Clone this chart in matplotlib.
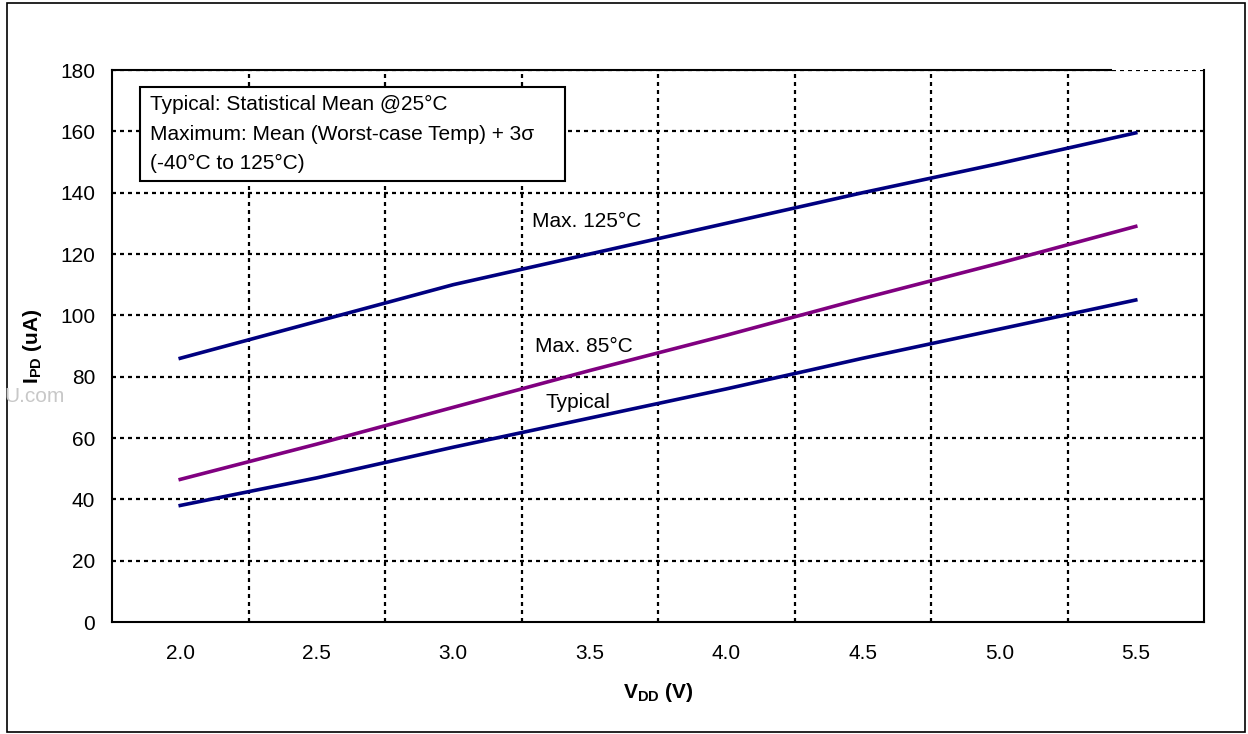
import matplotlib
matplotlib.use('Agg')
import matplotlib.pyplot as plt
from matplotlib.patches import Rectangle

plt.rcParams['font.family'] = ['Liberation Sans', 'DejaVu Sans']
plt.rcParams['mathtext.fontset'] = 'custom'
plt.rcParams['mathtext.rm'] = 'Liberation Sans'
plt.rcParams['mathtext.bf'] = 'Liberation Sans:bold'

# data
vdd = [2.0, 2.5, 3.0, 3.5, 4.0, 4.5, 5.0, 5.5]
typical = [38, 47, 57, 66.5, 76, 86, 95.5, 105]
max_85 = [46.5, 58, 70, 82, 93.5, 105.5, 117, 129]
max_125 = [86, 98, 110, 120, 130, 140, 149.5, 159.5]
xtick_labels = ['2.0', '2.5', '3.0', '3.5', '4.0', '4.5', '5.0', '5.5']
yticks = [0, 20, 40, 60, 80, 100, 120, 140, 160, 180]
vgrid = [2.25, 2.75, 3.25, 3.75, 4.25, 4.75, 5.25]

fig = plt.figure(figsize=(12.48, 7.34), dpi=100)
ax = fig.add_axes([112/1248, 112/734, 1092/1248, 552/734])

# outer frame around the whole picture
fig.patches.append(Rectangle((7/1248, 2/734), 1238/1248, 729/734, transform=fig.transFigure,
                             fill=False, edgecolor='black', linewidth=1.2))

# dotted grid
for y in yticks[1:]:
    ax.axhline(y, color='black', linewidth=1.6, linestyle=(0, (1.8, 1.8)), zorder=1)
for x in vgrid:
    ax.axvline(x, color='black', linewidth=1.6, linestyle=(0, (1.8, 1.8)), zorder=1)

ax.plot(vdd, max_125, color='#000080', linewidth=2.6, zorder=3)
ax.plot(vdd, max_85, color='#800080', linewidth=2.6, zorder=3)
ax.plot(vdd, typical, color='#000080', linewidth=2.6, zorder=3)

ax.set_xlim(1.75, 5.75)
ax.set_ylim(0, 180)
ax.set_xticks(vdd)
ax.set_xticklabels(xtick_labels)
ax.set_yticks(yticks)
ax.tick_params(axis='x', length=0, pad=16, labelsize=15)
ax.tick_params(axis='y', length=0, pad=12, labelsize=15)

for s in ax.spines.values():
    s.set_linewidth(1.5)
ax.spines['top'].set_bounds(1.75, 5.41)

ax.set_xlabel(r'V$_{\mathbf{DD}}$ (V)', fontsize=15, fontweight='bold', labelpad=13)
ax.set_ylabel(r'I$_{\mathbf{PD}}$ (uA)', fontsize=15, fontweight='bold', labelpad=12)

# curve labels
ax.text(3.49, 130.5, 'Max. 125°C', fontsize=15, ha='center', va='center')
ax.text(3.48, 90, 'Max. 85°C', fontsize=15, ha='center', va='center')
ax.text(3.455, 71.5, 'Typical', fontsize=15, ha='center', va='center')

# note box
ax.add_patch(Rectangle((28/1092, 441/552), 425/1092, 94/552, transform=ax.transAxes,
                       facecolor='white', edgecolor='black', linewidth=1.5, zorder=4))
ax.text(38/1092, 0.884, 'Typical: Statistical Mean @25°C\n'
        'Maximum: Mean (Worst-case Temp) + 3σ\n'
        '(-40°C to 125°C)', transform=ax.transAxes, fontsize=15,
        ha='left', va='center', linespacing=1.72, zorder=5)

# faint watermark at the left edge
fig.text(65/1248, 337/734, 'U.com', fontsize=15, color='#c8c8c8',
         ha='right', va='center')

fig.savefig('out.png', dpi=100)
